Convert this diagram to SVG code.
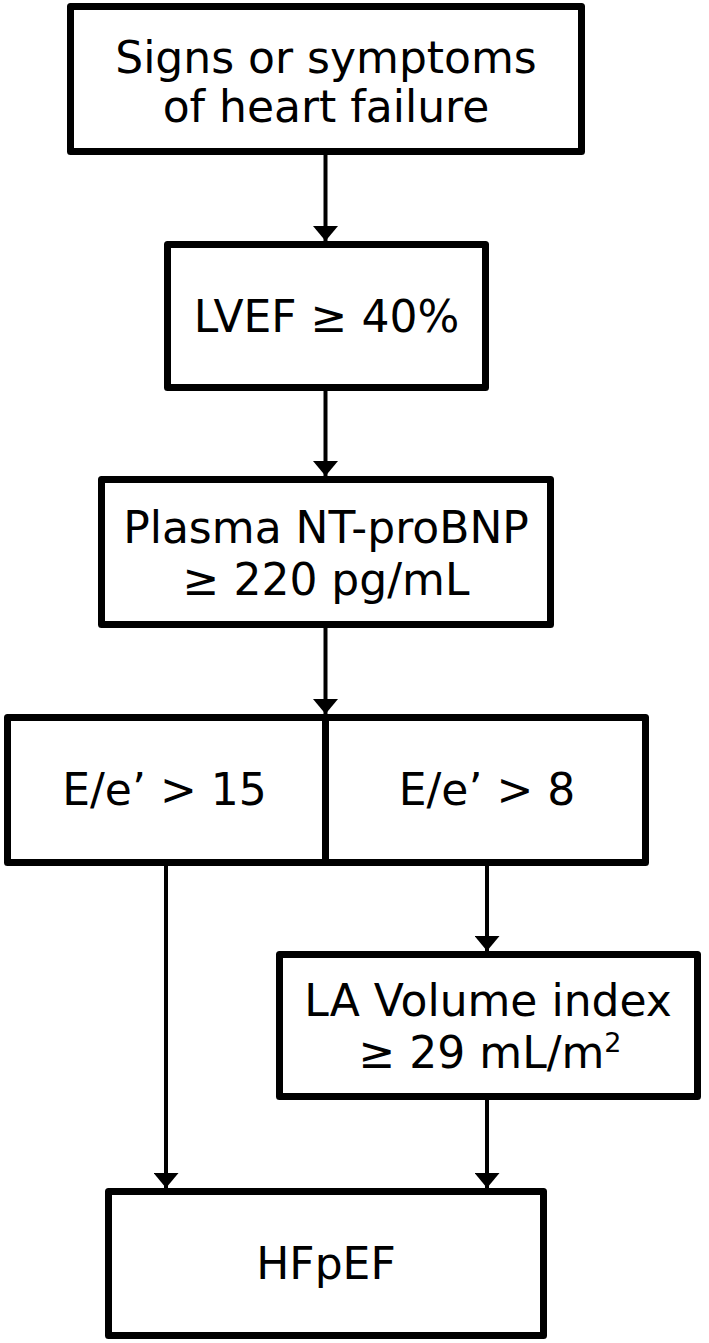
<svg xmlns="http://www.w3.org/2000/svg" width="709" height="1343" viewBox="0 0 709 1343">
  <defs>
    <style>
      .box { fill: #ffffff; stroke: #000000; stroke-width: 7; stroke-linejoin: round; }
      .div { stroke: #000000; stroke-width: 7; }
      .lbl { font-family: "DejaVu Sans", Verdana, sans-serif; font-size: 44px; fill: #000000; text-anchor: middle; }
      .conn { stroke: #000000; stroke-width: 4; fill: none; }
    </style>
    <marker id="arrow" viewBox="0 0 15 25" markerWidth="15" markerHeight="25" refX="15" refY="12.5" orient="auto" markerUnits="userSpaceOnUse">
      <path d="M0,0 L15,12.5 L0,25 Z" fill="#000000"/>
    </marker>
  </defs>
  <rect width="709" height="1343" fill="#ffffff"/>

  <g id="connectors">
    <line class="conn" x1="325.5" y1="155" x2="325.5" y2="241" marker-end="url(#arrow)"/>
    <line class="conn" x1="325.5" y1="391" x2="325.5" y2="476" marker-end="url(#arrow)"/>
    <line class="conn" x1="325.5" y1="628" x2="325.5" y2="714" marker-end="url(#arrow)"/>
    <line class="conn" x1="166" y1="866" x2="166" y2="1188" marker-end="url(#arrow)"/>
    <line class="conn" x1="487" y1="866" x2="487" y2="951" marker-end="url(#arrow)"/>
    <line class="conn" x1="487" y1="1100" x2="487" y2="1188" marker-end="url(#arrow)"/>
  </g>

  <g id="node-signs">
    <rect class="box" x="70.5" y="6.5" width="511" height="145"/>
    <text class="lbl" x="326" y="73">Signs or symptoms</text>
    <text class="lbl" x="326" y="122">of heart failure</text>
  </g>

  <g id="node-lvef">
    <rect class="box" x="167.5" y="244.5" width="318" height="143"/>
    <text class="lbl" x="326.5" y="332">LVEF ≥ 40%</text>
  </g>

  <g id="node-ntprobnp">
    <rect class="box" x="101.5" y="479.5" width="449" height="145"/>
    <text class="lbl" x="326" y="543">Plasma NT-proBNP</text>
    <text class="lbl" x="326" y="595">≥ 220 pg/mL</text>
  </g>

  <g id="node-ee">
    <rect class="box" x="7.5" y="717.5" width="638" height="145"/>
    <line class="div" x1="325.5" y1="717.5" x2="325.5" y2="862.5"/>
    <text class="lbl" x="164.5" y="805">E/e’ &gt; 15</text>
    <text class="lbl" x="487" y="805">E/e’ &gt; 8</text>
  </g>

  <g id="node-la">
    <rect class="box" x="279.5" y="954.5" width="418" height="142"/>
    <text class="lbl" x="488" y="1016">LA Volume index</text>
    <text class="lbl" x="490" y="1068">≥ 29 mL/m<tspan font-size="27" dy="-16">2</tspan></text>
  </g>

  <g id="node-hfpef">
    <rect class="box" x="108.5" y="1191.5" width="435" height="144"/>
    <text class="lbl" x="326" y="1279">HFpEF</text>
  </g>
</svg>
